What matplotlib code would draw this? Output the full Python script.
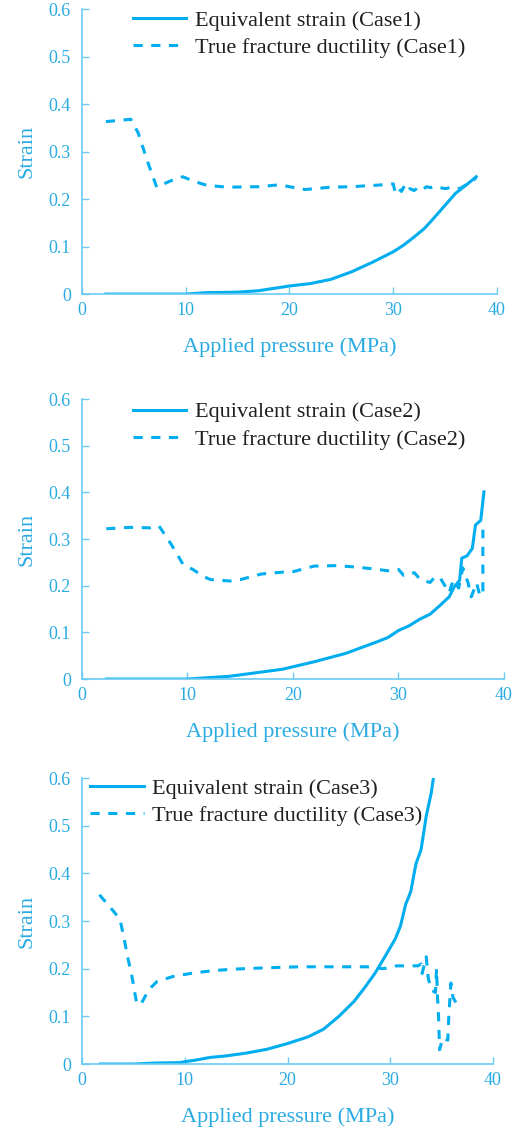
import matplotlib
matplotlib.use("Agg")
import matplotlib.pyplot as plt

# ---- Case 1 ----
eq1_p = [2.3, 5, 8, 10, 12, 15, 17, 20, 22, 24, 26, 28, 30, 31, 32, 33, 34, 35, 36, 37, 38]
eq1_s = [0.0, 0.0, 0.0, 0.0, 0.003, 0.004, 0.007, 0.017, 0.022, 0.031, 0.047, 0.067,
         0.089, 0.103, 0.12, 0.138, 0.162, 0.187, 0.212, 0.229, 0.247]
tf1_p = [2.3, 4.7, 5.4, 6.3, 7.2, 8.5, 9.7, 11.0, 12.0, 14, 17, 19, 21.5, 24, 26, 29, 30.0,
         30.2, 30.5, 30.8, 31.0, 31.3, 31.6, 32.0, 32.4, 32.8, 33.2, 33.6, 34.0, 34.5,
         35.0, 35.5, 36.0, 36.5, 37.0, 37.5, 38.0]
tf1_s = [0.363, 0.368, 0.34, 0.28, 0.225, 0.238, 0.247, 0.236, 0.229, 0.225, 0.226,
         0.23, 0.22, 0.225, 0.226, 0.23, 0.232, 0.213, 0.222, 0.216, 0.225, 0.214, 0.222,
         0.218, 0.224, 0.219, 0.226, 0.224, 0.227, 0.224, 0.222, 0.224, 0.221, 0.223,
         0.23, 0.236, 0.245]

# ---- Case 2 ----
eq2_p = [2.3, 6, 10, 14, 19, 22, 25, 28, 29, 30, 31, 32, 33, 34, 34.8, 35.3, 35.8, 36.0,
         36.5, 37.0, 37.3, 37.8, 38.1]
eq2_s = [0.0, 0.0, 0.0, 0.006, 0.021, 0.037, 0.055, 0.08, 0.089, 0.104, 0.114, 0.128,
         0.139, 0.159, 0.176, 0.198, 0.212, 0.259, 0.264, 0.28, 0.33, 0.34, 0.401]
tf2_p = [2.3, 4.5, 6.5, 7.3, 8.5, 9.6, 10.5, 11.5, 12.2, 13, 14, 15, 17, 19, 20, 22, 24,
         26, 28, 29, 30, 30.5, 31, 31.5, 32, 32.5, 33, 33.5, 34, 34.8, 35.2, 35.7, 36.1,
         36.6, 36.9, 37.4, 37.7, 38.0, 38.0]
tf2_s = [0.322, 0.325, 0.324, 0.328, 0.287, 0.245, 0.235, 0.22, 0.213, 0.212, 0.21,
         0.213, 0.225, 0.229, 0.23, 0.242, 0.243, 0.24, 0.235, 0.232, 0.235, 0.222,
         0.223, 0.228, 0.215, 0.21, 0.207, 0.22, 0.215, 0.185, 0.212, 0.195, 0.238,
         0.206, 0.176, 0.206, 0.18, 0.18, 0.32]

# ---- Case 3 ----
eq3_p = [1.8, 5, 7, 9.5, 10, 11, 12.5, 14, 16, 18, 20, 22, 23.5, 25, 26.5, 27.5, 28.5,
         29.5, 30.5, 31, 31.5, 32, 32.5, 33, 33.5, 34, 34.2]
eq3_s = [0.0, 0.0, 0.002, 0.003, 0.005, 0.008, 0.014, 0.017, 0.023, 0.031, 0.043, 0.057,
         0.073, 0.1, 0.132, 0.16, 0.19, 0.226, 0.263, 0.29, 0.335, 0.362, 0.42, 0.45,
         0.52, 0.57, 0.6]
tf3_p = [1.7, 3.2, 3.7, 4.05, 4.5, 4.86, 5.2, 5.35, 5.8, 6.5, 7.3, 8.9, 10.85, 12.8,
         14.7, 18, 21.2, 24.5, 27.7, 29.3, 30.3, 30.6, 32.7, 33.0, 33.1, 33.5, 33.7, 34.0,
         34.4, 34.5, 34.6, 34.7, 34.8, 35.1, 35.6, 35.7, 35.9, 36.1, 36.5]
tf3_s = [0.355, 0.317, 0.303, 0.268, 0.219, 0.184, 0.142, 0.125, 0.128, 0.156, 0.173,
         0.184, 0.191, 0.196, 0.199, 0.202, 0.204, 0.204, 0.204, 0.2, 0.204, 0.206, 0.206,
         0.21, 0.19, 0.225, 0.18, 0.155, 0.15, 0.2, 0.14, 0.1, 0.03, 0.055, 0.05, 0.1,
         0.17, 0.14, 0.125]

cases = [
    ("Case1", eq1_p, eq1_s, tf1_p, tf1_s),
    ("Case2", eq2_p, eq2_s, tf2_p, tf2_s),
    ("Case3", eq3_p, eq3_s, tf3_p, tf3_s),
]

line_c = "#00AEEF"
spine_c = "#6CCBF2"
tick_c = "#29ABE2"
text_c = "#231F20"

plt.rcParams["font.family"] = ["Liberation Serif", "DejaVu Serif"]

fig = plt.figure(figsize=(5.17, 11.31), dpi=100)

# axes rectangles and legend anchors
rects = [
    [0.1586, 0.740, 0.8027, 0.252],
    [0.1586, 0.3996, 0.8162, 0.2476],
    [0.1586, 0.0592, 0.795, 0.2529],
]
leg_anchor = [(0.123, 0.995), (0.12, 0.99), (0.02, 1.0)]

for (name, ep, es, tp, ts), rect, anc in zip(cases, rects, leg_anchor):
    ax = fig.add_axes(rect)
    ax.plot(ep, es, color=line_c, lw=2.2, label="Equivalent strain (%s)" % name)
    ax.plot(tp, ts, color=line_c, lw=2.2, linestyle=(0, (3, 2.8)),
            label="True fracture ductility (%s)" % name)
    ax.set_xlim(0, 40)
    ax.set_ylim(0, 0.6)
    ax.set_xticks([0, 10, 20, 30, 40])
    ax.set_yticks([0, 0.1, 0.2, 0.3, 0.4, 0.5, 0.6])
    ax.set_yticklabels(["0", "0.1", "0.2", "0.3", "0.4", "0.5", "0.6"])
    for s in ["top", "right"]:
        ax.spines[s].set_visible(False)
    for s in ["left", "bottom"]:
        ax.spines[s].set_color(spine_c)
        ax.spines[s].set_linewidth(1.2)
    ax.tick_params(axis="both", direction="in", length=5, width=1, color=spine_c,
                   labelcolor=tick_c, labelsize=13)
    ax.tick_params(axis="x", pad=6)
    ax.tick_params(axis="y", pad=8)
    ax.set_xlabel("Applied pressure (MPa)", color=tick_c, fontsize=16, labelpad=13)
    ax.set_ylabel("Strain", color=tick_c, fontsize=16, labelpad=9)
    leg = ax.legend(loc="upper left", bbox_to_anchor=anc, frameon=False, fontsize=16,
                    handlelength=2.4, handletextpad=0.4, labelspacing=0.3, borderpad=0,
                    borderaxespad=0)
    for t in leg.get_texts():
        t.set_color(text_c)

fig.savefig("out.png", dpi=100)
